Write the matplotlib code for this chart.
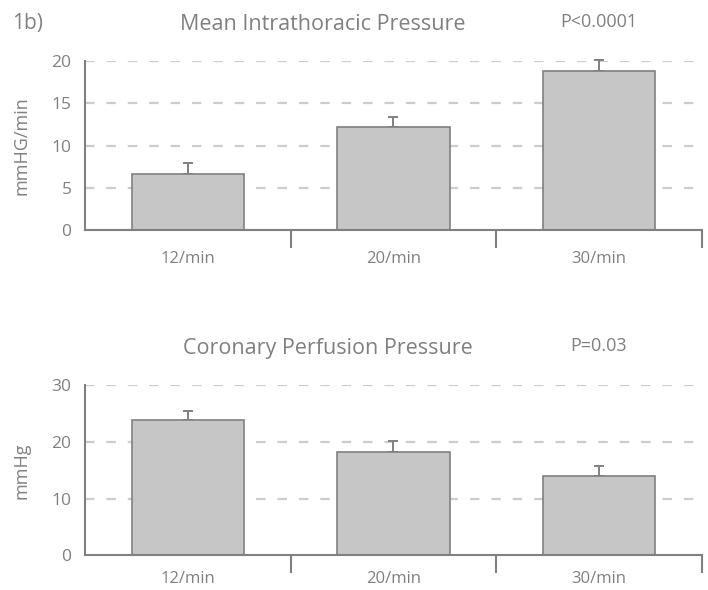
import matplotlib
matplotlib.use("Agg")
import matplotlib.pyplot as plt
import numpy as np

plt.rcParams['font.family'] = ['Open Sans', 'DejaVu Sans']
plt.rcParams['lines.scale_dashes'] = False

categories = ["12/min", "20/min", "30/min"]
itp_values = [6.6, 12.2, 18.8]
itp_errors = [1.4, 1.2, 1.3]
cpp_values = [23.8, 18.2, 14.0]
cpp_errors = [1.7, 1.9, 1.7]

TXT = "#808080"
EDGE = "#808080"
FILL = "#c6c6c6"
GRID = "#cccccc"

fig = plt.figure(figsize=(7.08, 5.90), dpi=100)


def panel(rect, values, errors, ylim, yticks, ylabel, title, ptext, title_x, xpad):
    ax = fig.add_axes(rect)
    x = np.arange(len(categories))
    ax.set_xlim(-0.5, len(categories) - 0.5)
    ax.set_ylim(*ylim)
    for t in yticks[1:]:
        ax.axhline(t, color=GRID, lw=1.6, linestyle=(0, (6.8, 8.6)), zorder=0)
    ax.bar(x, values, width=0.547, color=FILL, edgecolor=EDGE, linewidth=1.2, zorder=2)
    ax.errorbar(x, values, yerr=[[0] * len(errors), errors], fmt='none',
                ecolor=EDGE, elinewidth=1.4, capsize=3.5, capthick=1.4, zorder=1, clip_on=False)
    for s in ['top', 'right']:
        ax.spines[s].set_visible(False)
    for s in ['left', 'bottom']:
        ax.spines[s].set_color(EDGE)
        ax.spines[s].set_linewidth(1.5)
    ax.set_yticks(yticks)
    ax.tick_params(axis='y', length=0, labelsize=12.5, labelcolor=TXT, pad=10)
    # category boundaries as ticks below axis
    ax.set_xticks(np.arange(0.5, len(categories) - 0.4, 1.0))
    ax.set_xticklabels([])
    ax.tick_params(axis='x', direction='out', length=13, width=1.5, color=EDGE)
    ax.set_xticks(x, minor=True)
    ax.set_xticklabels(categories, minor=True)
    ax.tick_params(axis='x', which='minor', length=0, labelsize=12, labelcolor=TXT, pad=xpad)
    ax.set_ylabel(ylabel, fontsize=13, color=TXT, labelpad=15)
    ax.text(title_x, 1.215, title, transform=ax.transAxes, ha='center', va='center',
            fontsize=15.5, color=TXT)
    ax.text(2.0, 1.23, ptext, transform=ax.get_xaxis_transform(), ha='center', va='center',
            fontsize=13, color=TXT)
    return ax


ax1 = panel([0.1205, 0.6097, 0.8705, 0.2869], itp_values, itp_errors, (0, 20),
            [0, 5, 10, 15, 20], "mmHG/min", "Mean Intrathoracic Pressure", "P<0.0001", 0.386, 15)
ax2 = panel([0.1205, 0.0588, 0.8705, 0.2881], cpp_values, cpp_errors, (0, 30),
            [0, 10, 20, 30], "mmHg", "Coronary Perfusion Pressure", "P=0.03", 0.394, 11)

fig.text(12 / 708, 1 - 24 / 590, "1b)", ha='left', va='center', fontsize=15, color=TXT)

fig.savefig("out.png", dpi=100)
